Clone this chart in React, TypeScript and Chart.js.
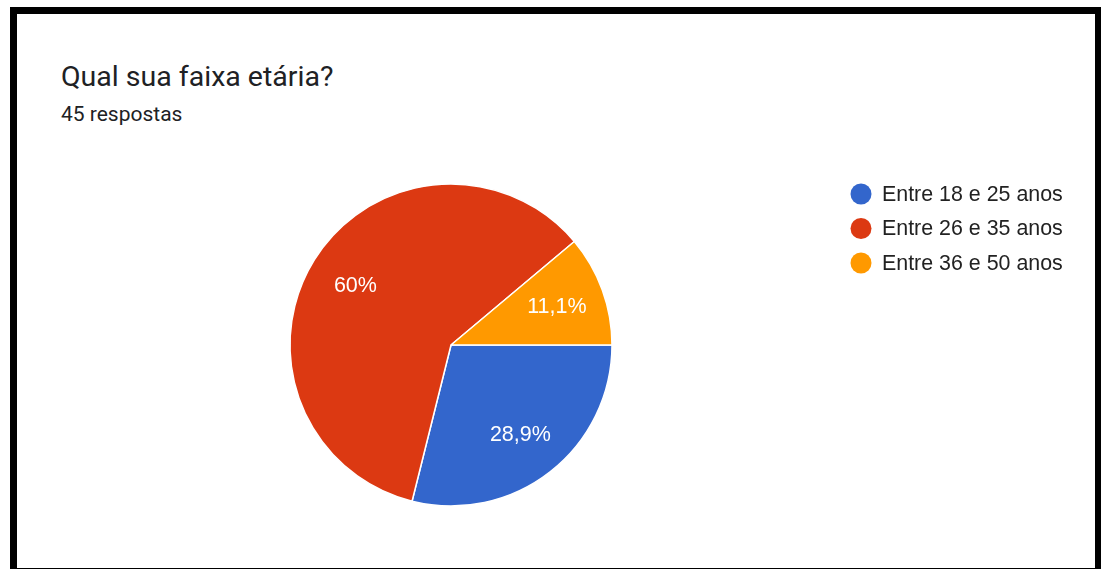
import React, { useEffect, useRef } from "react";
import { Chart, registerables } from "chart.js";

Chart.register(...registerables);

const categories = ["Entre 18 e 25 anos", "Entre 26 e 35 anos", "Entre 36 e 50 anos"];
const counts = [13, 27, 5];
const percentLabels = ["28,9%", "60%", "11,1%"];
const colors = ["#3366cc", "#dc3912", "#ff9900"];
const titleText = "Qual sua faixa etária?";
const subtitleText = "45 respostas";

const CANVAS_LEFT = 17;
const CANVAS_TOP = 14;
const CANVAS_W = 1078;
const CANVAS_H = 554;

const sliceLabelPlugin = {
  id: "sliceLabels",
  afterDatasetsDraw(chart: any) {
    const ctx = chart.ctx;
    const meta = chart.getDatasetMeta(0);
    ctx.save();
    ctx.fillStyle = "#ffffff";
    ctx.font = "21.5px Arial, 'Liberation Sans', sans-serif";
    ctx.textAlign = "center";
    ctx.textBaseline = "middle";
    meta.data.forEach((arc: any, i: number) => {
      const { x, y, startAngle, endAngle, outerRadius } = arc.getProps(
        ["x", "y", "startAngle", "endAngle", "outerRadius"],
        true
      );
      const mid = (startAngle + endAngle) / 2;
      const r = outerRadius * 0.7;
      ctx.fillText(percentLabels[i], x + Math.cos(mid) * r, y + Math.sin(mid) * r + 1);
    });
    ctx.restore();
  },
};

const legendPlugin = {
  id: "customLegend",
  afterDraw(chart: any) {
    const ctx = chart.ctx;
    const labels = chart.data.labels as string[];
    const bg = chart.data.datasets[0].backgroundColor as string[];
    const cx = 861 - CANVAS_LEFT;
    const tx = 882 - CANVAS_LEFT;
    const y0 = 194 - CANVAS_TOP;
    const step = 34.5;
    ctx.save();
    ctx.font = "21.4px Arial, 'Liberation Sans', sans-serif";
    ctx.textAlign = "left";
    ctx.textBaseline = "middle";
    labels.forEach((lab, i) => {
      const y = y0 + i * step;
      ctx.beginPath();
      ctx.arc(cx, y, 10.5, 0, Math.PI * 2);
      ctx.fillStyle = bg[i];
      ctx.fill();
      ctx.fillStyle = "#222222";
      ctx.fillText(lab, tx, y + 1);
    });
    ctx.restore();
  },
};

export default function App() {
  const canvasRef = useRef<HTMLCanvasElement | null>(null);

  useEffect(() => {
    document.body.style.margin = "0";
    const canvas = canvasRef.current;
    if (!canvas) return;
    const cxC = 451 - CANVAS_LEFT;
    const cyC = 345 - CANVAS_TOP;
    const half = 170;
    const chart = new Chart(canvas, {
      type: "pie",
      data: {
        labels: categories,
        datasets: [
          {
            data: counts,
            backgroundColor: colors,
            borderColor: "#ffffff",
            borderWidth: 1.5,
          },
        ],
      },
      options: {
        animation: false,
        responsive: false,
        maintainAspectRatio: false,
        rotation: 90,
        radius: 161,
        layout: {
          padding: {
            left: cxC - half,
            right: CANVAS_W - (cxC + half),
            top: cyC - half,
            bottom: CANVAS_H - (cyC + half),
          },
        },
        plugins: {
          legend: { display: false },
          tooltip: { enabled: false },
          title: { display: false },
        },
      },
      plugins: [sliceLabelPlugin, legendPlugin],
    });
    return () => chart.destroy();
  }, []);

  return (
    <div style={{ position: "relative", width: 1104, height: 569, background: "#fff", overflow: "hidden" }}>
      <div
        style={{
          position: "absolute",
          left: 10,
          top: 7,
          width: 1091,
          height: 562,
          boxSizing: "border-box",
          borderTop: "7px solid #000",
          borderLeft: "7px solid #000",
          borderRight: "6px solid #000",
          borderBottom: "1px solid #000",
          background: "#fff",
        }}
      />
      <div
        style={{
          position: "absolute",
          left: 61,
          top: 62.5,
          fontFamily: "Roboto, sans-serif",
          fontSize: 28.5,
          color: "#202124",
          whiteSpace: "nowrap",
          lineHeight: "28.5px",
        }}
      >
        {titleText}
      </div>
      <div
        style={{
          position: "absolute",
          left: 61,
          top: 103.5,
          fontFamily: "Roboto, sans-serif",
          fontSize: 21,
          color: "#202124",
          whiteSpace: "nowrap",
          lineHeight: "21px",
        }}
      >
        {subtitleText}
      </div>
      <canvas
        ref={canvasRef}
        width={CANVAS_W}
        height={CANVAS_H}
        style={{ position: "absolute", left: CANVAS_LEFT, top: CANVAS_TOP, width: CANVAS_W, height: CANVAS_H }}
      />
    </div>
  );
}
